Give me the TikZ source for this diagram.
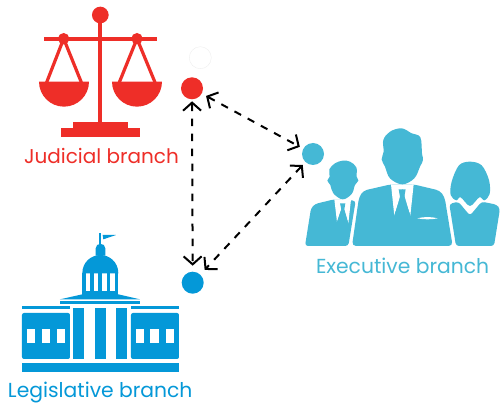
\documentclass[tikz,border=0pt]{standalone}
\usepackage{fontspec}
\setmainfont{Poppins}
\usetikzlibrary{arrows.meta}
\definecolor{jred}{HTML}{EE2E28}
\definecolor{eblue}{HTML}{45B8D5}
\definecolor{lblue}{HTML}{0498D8}
\tikzset{
  dot/.style={circle,minimum size=22pt,inner sep=0pt,outer sep=0pt,fill=#1},
  lab/.style={anchor=base west,inner sep=0pt,outer sep=0pt,font=\fontsize{20}{22}\selectfont,text=#1},
  labw/.style={lab=#1,font=\fontsize{20.3}{22}\selectfont},
  link/.style={draw=black,line width=2pt,dash pattern=on 7.5pt off 7.5pt,
    {Straight Barb[length=8pt,width=18pt,line width=2pt]}-{Straight Barb[length=8pt,width=18pt,line width=2pt]}},
  zoomA/.style={shift={(20,0)},x=0.3333pt,y=-0.3333pt},
  zoomB/.style={shift={(295,120)},x=0.3333pt,y=-0.3333pt},
  zoomC/.style={shift={(0,225)},x=0.3333pt,y=-0.3333pt},
}
\begin{document}
\begin{tikzpicture}[x=1pt,y=-1pt]
\useasboundingbox[fill=white] (0,0) rectangle (503,403);
% Judicial icon
\begin{scope}[zoomA,fill=jred,draw=jred]
  \fill (241,45) circle[radius=25];
  \fill (235,45) rectangle (247,370);
  \fill (71,110) rectangle (411,122);
  \fill (131,116) circle[radius=17];
  \fill (351,116) circle[radius=17];
  \draw[line width=3.2pt,line join=round] (80,247) -- (131,116) -- (184,247);
  \draw[line width=3.2pt,line join=round] (298,247) -- (351,116) -- (405,247);
  \fill (57,245) -- (207,245) arc[start angle=0,end angle=180,radius=75] -- cycle;
  \fill (276,245) -- (426,245) arc[start angle=0,end angle=180,radius=75] -- cycle;
  \fill (160,367) rectangle (323,385);
  \fill (122,384) rectangle (360,410);
\end{scope}
% Legislative icon
\begin{scope}[zoomC,fill=lblue]
  \fill (298,25) rectangle (304,62);
  \fill (308,30) -- (348,30) -- (310,43) -- cycle;
  \fill (287,92) -- (287,70) .. controls (287,52) and (316,52) .. (316,70) -- (316,92) -- cycle;
  \fill (247,145) .. controls (247,110) and (275,90) .. (301,90) .. controls (327,90) and (355,110) .. (355,145) -- cycle;
  \foreach \a/\b in {247/258,271/282,295/307,320/331,344/355} \fill (\a,144) rectangle (\b,200);
  \fill (180,223) -- (247,208) -- (355,208) -- (420,223) -- cycle;
  \fill (247,198) rectangle (355,209);
  \fill (180,227) rectangle (420,238);
  \foreach \a/\b in {220/252,285/317,349/381} \fill (\a,249) rectangle (\b,402);
  \fill (66,244) rectangle (210,252);
  \fill (393,244) rectangle (537,252);
  \fill[rounded corners=2pt] (66,402) -- (66,264) -- (210,264) -- (210,402) -- cycle;
  \fill[rounded corners=2pt] (393,402) -- (393,264) -- (537,264) -- (537,402) -- cycle;
  \foreach \a/\b in {80/105,125/151,171/196,407/432,451/477,497/522} \fill[white] (\a,312) rectangle (\b,355);
  \fill (66,414) rectangle (537,440);
\end{scope}
% Executive icon
\begin{scope}[zoomB,fill=eblue]
  % centre man
  \fill[rounded corners=4pt] (171,378) -- (192,232) -- (205,212) -- (288,193) -- (355,193) -- (435,212) -- (449,232) -- (473,378) -- cycle;
  \fill[white] (288,193) -- (298,287) -- (322,205) -- (346,287) -- (356,193) -- cycle;
  \fill (311,208) -- (332,208) -- (327,236) -- (346,285) -- (322,320) -- (298,285) -- (316,236) -- cycle;
  \fill[white] (367,295) .. controls (385,290) and (410,290) .. (428,295) .. controls (410,299) and (385,299) .. (367,295) -- cycle;
  \fill plot[smooth cycle,tension=0.6] coordinates {(320,25) (350,40) (376,52) (381,100) (384,120) (375,140) (358,175) (322,193) (285,175) (270,140) (260,118) (266,95) (265,60) (285,35)};
  % left man
  \fill[rounded corners=3pt] (30,378) -- (48,265) -- (60,252) -- (118,238) -- (182,242) -- (160,378) -- cycle;
  \fill[white] (118,238) -- (126,306) -- (143,255) -- (160,310) -- (168,238) -- cycle;
  \fill (135,250) -- (151,250) -- (148,268) -- (160,310) -- (144,338) -- (126,306) -- (139,268) -- cycle;
  \fill plot[smooth cycle,tension=0.6] coordinates {(143,122) (120,130) (103,148) (104,170) (97,182) (106,195) (115,220) (143,238) (170,222) (180,195) (190,182) (185,170) (184,142) (165,125)};
  % woman
  \fill[rounded corners=3pt] (463,252) -- (490,245) -- (525,287) -- (560,245) -- (605,254) -- (615,266) -- (597,378) -- (483,378) -- cycle;
  \fill plot[smooth cycle,tension=0.55] coordinates {(525,125) (492,136) (470,185) (467,225) (484,241) (497,232) (525,258) (553,232) (568,241) (584,222) (582,180) (560,136)};
\end{scope}
% Labels
\node[lab=jred] (jl) at (24,164) {Judicial branch};
\node[labw=eblue] (el) at (316,273) {Executive branch};
\node[labw=lblue] (ll) at (8,397.5) {Legislative branch};
% Dots
\node[dot=white,draw=black!8,line width=0.3pt] (w) at (200.3,57.7) {};
\node[dot=jred] (j) at (192,88.3) {};
\node[dot=eblue] (e) at (313,154) {};
\node[dot=lblue] (l) at (192.7,282.7) {};
% Connectors
\draw[link,shorten <=2pt,shorten >=6pt] (j) -- (l);
\draw[link,shorten <=5pt,shorten >=4pt] (j) -- (e);
\draw[link,shorten <=4pt,shorten >=6.5pt] (e) -- (l);
\end{tikzpicture}
\end{document}
